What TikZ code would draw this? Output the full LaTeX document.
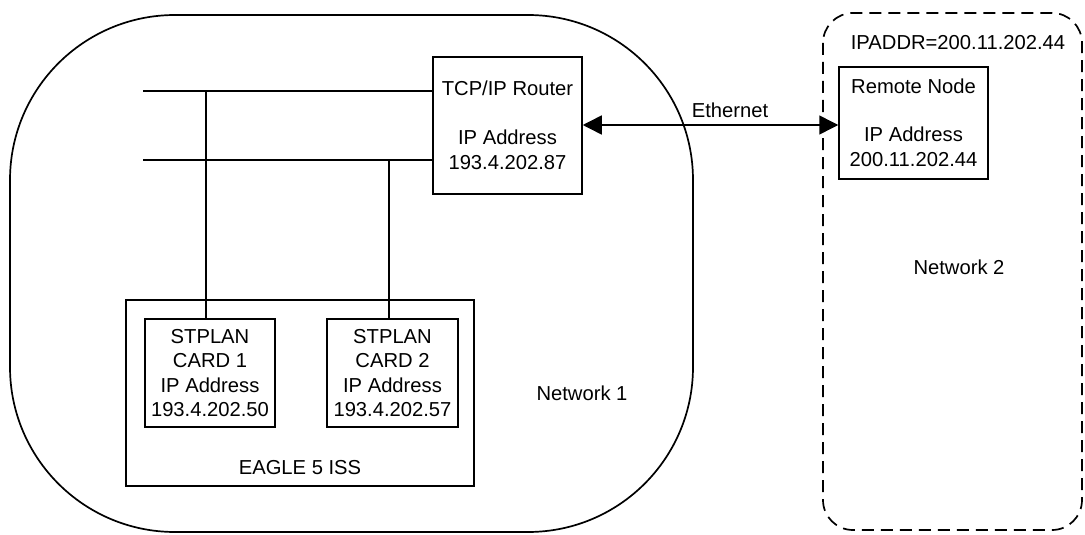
\documentclass[tikz,border=0pt]{standalone}
\usepackage{fontspec}
\setmainfont{Liberation Sans}
\usetikzlibrary{arrows.meta}
\tikzset{
  base/.style={line width=1.5pt, draw=black},
  box/.style={base, align=center, inner sep=0pt},
  lbl/.style={align=center, inner sep=0pt},
  link/.style={line width=1.5pt},
  bothtips/.style={{Triangle[length=19pt,width=19pt]}-{Triangle[length=19pt,width=19pt]}},
}
\begin{document}
\begin{tikzpicture}[x=1pt,y=-1pt, font=\fontsize{20.2}{24.5}\selectfont]
\useasboundingbox (0,0) rectangle (1085,535);
\fill[white] (0,0) rectangle (1085,535);

% network regions
\draw[line width=1.7pt, rounded corners=165] (10,15) rectangle (693,532);
\draw[line width=1.7pt, dash pattern=on 12pt off 7pt, rounded corners=30] (823,13) rectangle (1082,530);

% router and remote node
\node[box, minimum width=149pt, minimum height=137pt] (router) at (507.5,125.5)
  {TCP/IP Router\\[24.5pt]IP Address\\193.4.202.87};
\node[box, minimum width=149pt, minimum height=112pt] (remote) at (913.5,123)
  {Remote Node\\[23.5pt]IP Address\\200.11.202.44};

% EAGLE system with its two cards
\node[box, minimum width=348pt, minimum height=186pt] (eagle) at (300,393) {};
\node[box, minimum width=130pt, minimum height=108pt] (card1) at (210,373)
  {STPLAN\\CARD 1\\IP Address\\193.4.202.50};
\node[box, minimum width=131pt, minimum height=108pt] (card2) at (392.5,373)
  {STPLAN\\CARD 2\\IP Address\\193.4.202.57};
\node[lbl] (eaglelbl) at (300,468) {EAGLE 5 ISS};

% labels
\node[lbl] (net1) at (582,393) {Network 1};
\node[lbl] (net2) at (959,267) {Network 2};
\node[lbl] (ipaddr) at (958,43) {IPADDR=200.11.202.44};
\node[lbl] (eth) at (730,110) {Ethernet};

% LAN buses
\coordinate (busA) at (143,91);
\coordinate (busB) at (143,160);
\coordinate (tapA) at (206,91);
\coordinate (tapB) at (389,160);
\draw[link] (busA) -- (busA -| router.west);
\draw[link] (busB) -- (busB -| router.west);
\draw[link] (tapA) -- (tapA |- card1.north);
\draw[link] (tapB) -- (tapB |- card2.north);

% Ethernet link
\draw[link, bothtips]
  (router.east |- 0,125) -- (remote.west |- 0,125);
\end{tikzpicture}
\end{document}
